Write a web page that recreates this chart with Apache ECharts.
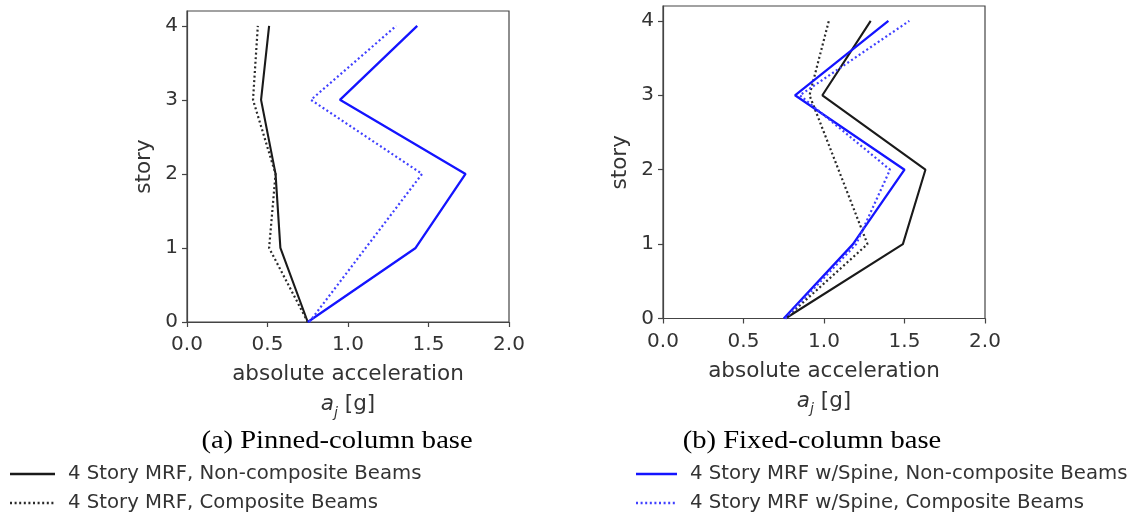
<!DOCTYPE html>
<html>
<head>
<meta charset="utf-8">
<script src="https://cdn.jsdelivr.net/npm/echarts@6/dist/echarts.min.js"></script>
<style>html,body{margin:0;padding:0;background:#fff}#c{width:1131px;height:517px}</style>
</head>
<body>
<div id="c"></div>
<script>
// ---- data ----
const stories = [0, 1, 2, 3, 4];
const yTicks = [0, 1, 2, 3, 4];
const seriesNames = [
  '4 Story MRF, Non-composite Beams',
  '4 Story MRF, Composite Beams',
  '4 Story MRF w/Spine, Non-composite Beams',
  '4 Story MRF w/Spine, Composite Beams'
];
// (a) Pinned-column base
const pinnedMrfNonComp   = [0.75, 0.58, 0.55, 0.46, 0.51];
const pinnedMrfComp      = [0.75, 0.51, 0.55, 0.41, 0.44];
const pinnedSpineNonComp = [0.75, 1.42, 1.73, 0.95, 1.43];
const pinnedSpineComp    = [0.76, 1.11, 1.46, 0.77, 1.30];
// (b) Fixed-column base
const fixedMrfNonComp    = [0.76, 1.49, 1.63, 0.99, 1.29];
const fixedMrfComp       = [0.76, 1.27, 1.09, 0.91, 1.03];
const fixedSpineNonComp  = [0.75, 1.18, 1.50, 0.82, 1.40];
const fixedSpineComp     = [0.76, 1.20, 1.41, 0.85, 1.53];
const captions = ['(a) Pinned-column base', '(b) Fixed-column base'];

// ---- styles ----
const FONT = 'DejaVu Sans';
const TXT = '#333';
const AX = '#444';
const styles = [
  {color: '#1a1a1a', dash: null, width: 2.1},
  {color: '#2a2a2a', dash: [2, 2.6], width: 2.2},
  {color: '#1414ff', dash: null, width: 2.3},
  {color: '#4040ff', dash: [2, 2.6], width: 2.2}
];

function pts(vals) { return stories.map((s, i) => [vals[i], s]); }

const grids = [
  {left: 187, top: 11, width: 322, height: 311},
  {left: 663, top: 6, width: 322, height: 312.5}
];

function xAxis(gi) {
  return {
    type: 'value', gridIndex: gi, min: 0, max: 2, interval: 0.5,
    axisLine: {show: true, lineStyle: {color: AX, width: 1.2}},
    axisTick: {show: true, inside: false, length: 5, lineStyle: {color: AX, width: 1.2}},
    splitLine: {show: false},
    axisLabel: {color: TXT, fontFamily: FONT, fontSize: 20, margin: 13,
      formatter: v => v.toFixed(1), showMinLabel: true, showMaxLabel: true},
    name: 'absolute acceleration\n{it|a}{sub|j} [g]',
    nameLocation: 'middle', nameGap: 35,
    nameTextStyle: {color: TXT, fontFamily: FONT, fontSize: 21.5, lineHeight: 30,
      rich: {
        it: {fontFamily: FONT, fontSize: 21.5, fontStyle: 'italic', color: TXT, lineHeight: 30},
        sub: {fontFamily: FONT, fontSize: 14, fontStyle: 'italic', color: TXT, verticalAlign: 'bottom', lineHeight: 18}
      }}
  };
}
function yAxis(gi) {
  return {
    type: 'value', gridIndex: gi, min: 0, max: 4.2, interval: 1,
    axisLine: {show: true, lineStyle: {color: AX, width: 1.2}},
    axisTick: {show: true, inside: false, length: 5, customValues: yTicks, lineStyle: {color: AX, width: 1.2}},
    splitLine: {show: false},
    axisLabel: {color: TXT, fontFamily: FONT, fontSize: 20, margin: 9, customValues: yTicks,
      formatter: v => String(v)},
    name: 'story', nameLocation: 'middle', nameGap: 32,
    nameTextStyle: {color: TXT, fontFamily: FONT, fontSize: 21.5}
  };
}

const groups = [
  [pinnedMrfNonComp, pinnedMrfComp, pinnedSpineNonComp, pinnedSpineComp],
  [fixedMrfNonComp, fixedMrfComp, fixedSpineNonComp, fixedSpineComp]
];
const series = [];
groups.forEach((g, gi) => {
  g.forEach((vals, k) => {
    series.push({
      type: 'line', name: seriesNames[k], xAxisIndex: gi, yAxisIndex: gi,
      data: pts(vals), symbol: 'none', silent: true, animation: false,
      lineStyle: {color: styles[k].color, type: styles[k].dash || 'solid', width: styles[k].width},
      itemStyle: {color: styles[k].color}
    });
  });
});

// legend drawn as graphic samples + labels
const legendPos = [
  {x0: 10, x1: 55, tx: 68, y: 474},
  {x0: 10, x1: 55, tx: 68, y: 503},
  {x0: 636, x1: 677, tx: 690, y: 474},
  {x0: 636, x1: 677, tx: 690, y: 503}
];
const legendGraphics = [];
seriesNames.forEach((n, k) => {
  const p = legendPos[k];
  legendGraphics.push({type: 'line', silent: true,
    shape: {x1: p.x0, y1: p.y, x2: p.x1, y2: p.y},
    style: {stroke: styles[k].color, lineWidth: styles[k].width + 0.3, lineDash: styles[k].dash}});
  legendGraphics.push({type: 'text', silent: true, x: p.tx, y: p.y,
    style: {text: n, fill: TXT, font: '19.7px "DejaVu Sans"', textAlign: 'left', textVerticalAlign: 'middle'}});
});

const option = {
  backgroundColor: '#fff',
  animation: false,
  grid: grids.map(g => Object.assign({show: true, borderColor: AX, borderWidth: 1.2, backgroundColor: 'transparent'}, g)),
  xAxis: [xAxis(0), xAxis(1)],
  yAxis: [yAxis(0), yAxis(1)],
  series: series,
  graphic: [
    {type: 'text', x: 337, y: 441, scaleX: 1.12, silent: true,
      style: {text: captions[0], fill: '#000', font: '25.5px "Liberation Serif"', textAlign: 'center', textVerticalAlign: 'middle'}},
    {type: 'text', x: 812, y: 441, scaleX: 1.12, silent: true,
      style: {text: captions[1], fill: '#000', font: '25.5px "Liberation Serif"', textAlign: 'center', textVerticalAlign: 'middle'}}
  ].concat(legendGraphics)
};
const chart = echarts.init(document.getElementById('c'), null, {renderer: 'canvas'});
chart.setOption(option);
</script>
</body>
</html>
